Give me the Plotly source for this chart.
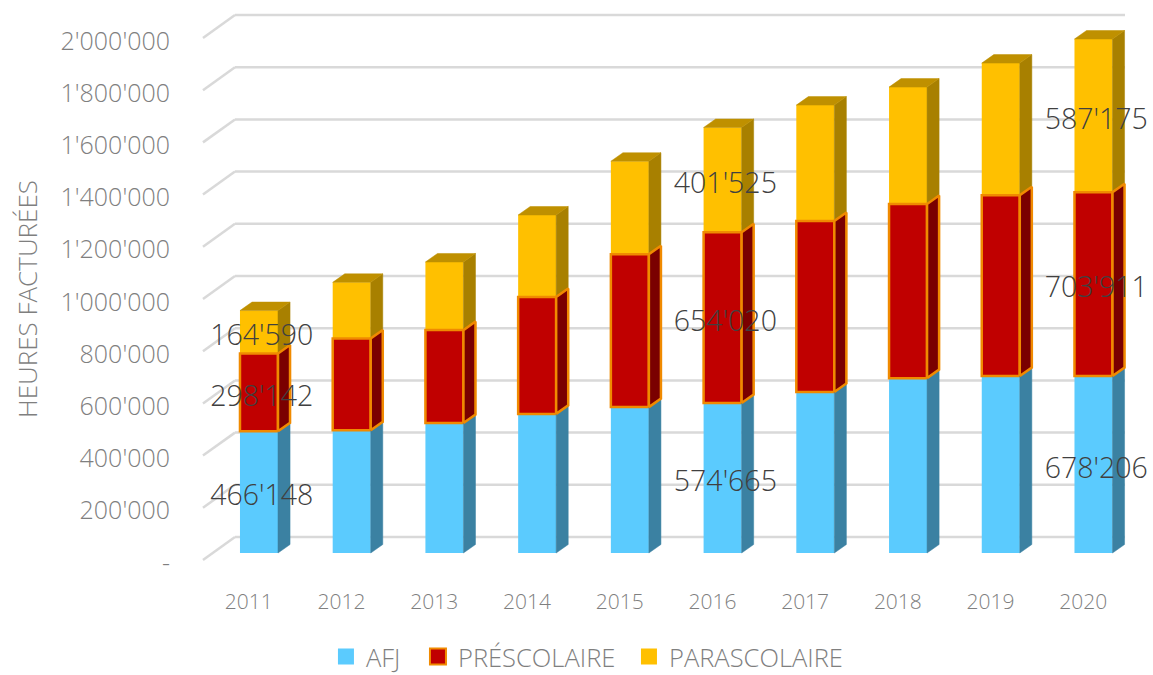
import plotly.graph_objects as go

years = [2011, 2012, 2013, 2014, 2015, 2016, 2017, 2018, 2019, 2020]
afj = [466148, 470000, 498000, 533000, 559000, 574665, 617000, 670000, 678000, 678206]
prescolaire = [298142, 352000, 356000, 448000, 586000, 654020, 655000, 667000, 693000, 703911]
parascolaire = [164590, 215000, 261000, 314000, 356000, 401525, 444000, 448000, 506000, 587175]
labelled_years = [2011, 2016, 2020]
y_ticks = [0, 200000, 400000, 600000, 800000, 1000000, 1200000, 1400000, 1600000, 1800000, 2000000]
y_tick_text = ["-", "200'000", "400'000", "600'000", "800'000", "1'000'000",
               "1'200'000", "1'400'000", "1'600'000", "1'800'000", "2'000'000"]

FONT = "Open Sans"
BAR_WIDTH = 0.41
DEPTH_X = 0.13
DEPTH_Y = 32600
# fake 3D: the walls sit a bit in front of and behind the bars
WALL_FRONT = -26800
WALL_BACK = 61300
WALL_LEFT_FRONT = 2011 - 0.604
WALL_LEFT_BACK = 2011 - 0.259
WALL_RIGHT = 2020 + 0.34
LABEL_SHIFT = -38000
TEXT_DROP = 23000

base_pres = list(afj)
base_para = [a + p for a, p in zip(afj, prescolaire)]
tops = [b + p for b, p in zip(base_para, parascolaire)]


def side_faces(bases, values):
    xs, ys = [], []
    for year, b, v in zip(years, bases, values):
        x0 = year + BAR_WIDTH / 2
        x1 = x0 + DEPTH_X
        xs += [x0, x1, x1, x0, x0, None]
        ys += [b, b + DEPTH_Y, b + v + DEPTH_Y, b + v, b, None]
    return xs, ys


def top_faces():
    xs, ys = [], []
    for year, t in zip(years, tops):
        x0 = year - BAR_WIDTH / 2
        x1 = year + BAR_WIDTH / 2
        xs += [x0, x0 + DEPTH_X, x1 + DEPTH_X, x1, x0, None]
        ys += [t, t + DEPTH_Y, t + DEPTH_Y, t, t, None]
    return xs, ys


fig = go.Figure()

# Front faces, red last so that its border stays on top
fig.add_trace(go.Bar(x=years, y=afj, width=BAR_WIDTH, marker=dict(color="#5BCBFE", line_width=0), showlegend=False))
fig.add_trace(go.Bar(x=years, y=parascolaire, base=base_para, width=BAR_WIDTH,
                     marker=dict(color="#FFC000", line_width=0), showlegend=False))
fig.add_trace(go.Bar(x=years, y=prescolaire, base=base_pres, width=BAR_WIDTH,
                     marker=dict(color="#C00000", line=dict(color="#F08A00", width=2.5)), showlegend=False))

# Side and top faces
for bases, values, fill, line, w in [
    ([0] * len(years), afj, "#3B81A2", "#3B81A2", 0.5),
    (base_para, parascolaire, "#A88000", "#A88000", 0.5),
    (base_pres, prescolaire, "#7A0000", "#F08A00", 2.5),
]:
    xs, ys = side_faces(bases, values)
    fig.add_trace(go.Scatter(x=xs, y=ys, mode="lines", fill="toself", fillcolor=fill,
                             line=dict(color=line, width=w), showlegend=False, hoverinfo="skip"))
xs, ys = top_faces()
fig.add_trace(go.Scatter(x=xs, y=ys, mode="lines", fill="toself", fillcolor="#BF9000",
                         line=dict(color="#BF9000", width=0.5), showlegend=False, hoverinfo="skip"))

# Data labels for the three labelled years
lab_x, lab_y, lab_text = [], [], []
for year in labelled_years:
    i = years.index(year)
    for b, v in [(0, afj[i]), (base_pres[i], prescolaire[i]), (base_para[i], parascolaire[i])]:
        lab_x.append(year + 0.03)
        lab_y.append(b + v / 2 - TEXT_DROP)
        lab_text.append(f"{v:,}".replace(",", "'"))
fig.add_trace(go.Scatter(x=lab_x, y=lab_y, text=lab_text, mode="text", showlegend=False, hoverinfo="skip",
                         cliponaxis=False, textfont=dict(family=FONT, size=28.5, color="#404040", weight=300)))

# Legend entries, one legend each so the gaps can follow the original
legend_font = dict(size=25.5, color="#7F7F7F", weight=300)
legend_layout = {}
for key, name, color, line, w, x_pos in [("legend", "AFJ", "#5BCBFE", "#5BCBFE", 0, 0.2827),
                                         ("legend2", "PRÉSCOLAIRE", "#C00000", "#F08A00", 2, 0.3625),
                                         ("legend3", "PARASCOLAIRE", "#FFC000", "#FFC000", 0, 0.5455)]:
    fig.add_trace(go.Scatter(x=[None], y=[None], mode="markers", name=name, legend=key, showlegend=True,
                             marker=dict(symbol="square", size=16, color=color, line=dict(color=line, width=w))))
    legend_layout[key] = dict(orientation="h", xref="container", yref="container", x=x_pos, xanchor="left",
                              y=0.0478, yanchor="middle", font=legend_font, itemsizing="trace",
                              bgcolor="rgba(0,0,0,0)")

# Gridlines bent along the floor wall
for v in y_ticks:
    fig.add_shape(type="line", layer="below", x0=WALL_LEFT_FRONT, y0=v + WALL_FRONT, x1=WALL_LEFT_BACK, y1=v + WALL_BACK,
                  line=dict(color="#D9D9D9", width=2.5))
    fig.add_shape(type="line", layer="below", x0=WALL_LEFT_BACK, y0=v + WALL_BACK, x1=WALL_RIGHT, y1=v + WALL_BACK,
                  line=dict(color="#D9D9D9", width=2.5))

fig.add_annotation(text="HEURES FACTURÉES", textangle=-90, xref="paper", yref="paper", x=-0.1715, y=0.4887,
                   xanchor="center", yanchor="middle", showarrow=False,
                   font=dict(family=FONT, size=26, color="#7F7F7F", weight=300))

# a little taller than the window, otherwise the legend box gets clipped at the bottom
fig.update_layout(
    width=1153, height=690,
    margin=dict(l=190, r=13, t=5, b=110),
    barmode="overlay",
    plot_bgcolor="white", paper_bgcolor="white",
    font=dict(family=FONT, color="#7F7F7F", weight=300),
    xaxis=dict(range=[2011 - 0.744, 2020 + 0.5016], showgrid=False, zeroline=False, showline=False,
               tickvals=[y - 0.11 for y in years], ticktext=[str(y) for y in years],
               ticks="outside", ticklen=3, tickcolor="rgba(0,0,0,0)", tickfont=dict(size=21, weight=300)),
    yaxis=dict(range=[-103400, 2099600], showgrid=False, zeroline=False, showline=False,
               tickvals=[v + LABEL_SHIFT for v in y_ticks], ticktext=y_tick_text,
               ticks="outside", ticklen=14, tickcolor="rgba(0,0,0,0)", tickfont=dict(size=25, weight=300)),
    **legend_layout,
)

fig.write_html("out.html", config={"displayModeBar": False},
               post_script="document.body.style.margin='0';document.body.style.overflow='hidden';")
